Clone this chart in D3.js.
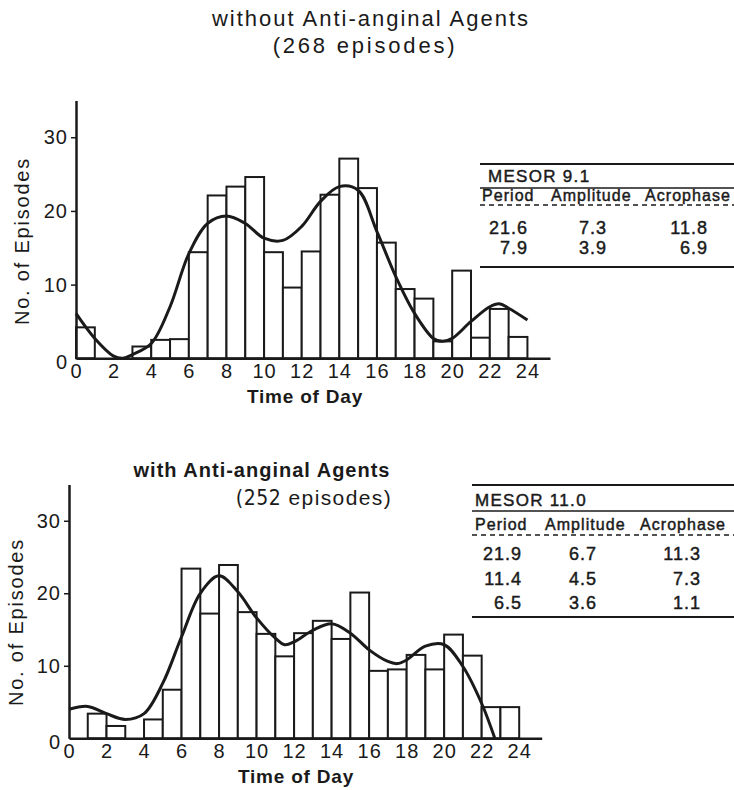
<!DOCTYPE html>
<html>
<head>
<meta charset="utf-8">
<script src="https://cdn.jsdelivr.net/npm/d3@7"></script>
<style>
  body { margin: 0; background: #fff; }
  text { font-family: "Liberation Sans", Arial, sans-serif; fill: #1a1a1a; }
</style>
</head>
<body>
<div class="container"></div>
<script>
// hourly episode counts (bin h = h..h+1)
const hours = d3.range(24);
const xTicks = d3.range(0, 25, 2);
const yTicks = [0, 10, 20, 30];

const withoutCounts = [4.2, 0, 0, 1.6, 2.5, 2.6, 14.4, 22.1, 23.3, 24.6, 14.4, 9.6,
  14.5, 22.2, 27.1, 23.1, 15.7, 9.4, 8.1, 2.3, 11.9, 2.8, 6.7, 2.9];
const withCounts = [0, 3.4, 1.7, 0, 2.6, 6.7, 23.4, 17.2, 23.9, 17.4, 14.4, 11.3,
  14.5, 16.2, 13.7, 20.1, 9.3, 9.5, 11.5, 9.5, 14.3, 11.4, 4.3, 4.3];

// fitted curves
const withoutFitHours = [0, 1, 2, 2.5, 3, 4, 5, 6, 7, 8, 9, 10, 11, 12, 13, 14, 15, 16, 17, 18, 19, 19.5, 20, 21, 22, 22.5, 23, 24];
const withoutFit = [6.1, 2.7, 0.3, 0, 0.5, 2.0, 7.0, 14.2, 18.3, 19.3, 18.3, 16.3, 16.0, 17.9, 21.3, 23.3, 22.8, 17.2, 11.1, 6.1, 2.7, 2.3, 2.7, 5.0, 7.0, 7.4, 6.8, 5.2];
const withFitHours = [0, 1, 2, 3, 4, 5, 6, 7, 8, 9, 10, 11, 11.5, 12, 13, 14, 15, 16, 17, 17.5, 18, 19, 20, 21, 22, 22.7];
const withFit = [4.0, 4.4, 3.4, 2.6, 3.4, 7.6, 14.0, 20.0, 22.4, 20.2, 16.6, 13.8, 12.9, 13.3, 14.9, 15.8, 14.5, 12.2, 10.6, 10.3, 10.8, 12.7, 12.9, 9.9, 4.8, 0];

const tableHeads = ["Period", "Amplitude", "Acrophase"];
const withoutMesor = "9.1";
const withoutRows = [["21.6", "7.3", "11.8"], ["7.9", "3.9", "6.9"]];
const withMesor = "11.0";
const withRows = [["21.9", "6.7", "11.3"], ["11.4", "4.5", "7.3"], ["6.5", "3.6", "1.1"]];

const width = 734;
const height = 790;

const svg = d3.select(".container").append("svg")
  .attr("width", width)
  .attr("height", height);

const ink = "#1a1a1a";

function drawPanel(cfg) {
  const x = d3.scaleLinear().domain([0, 25.2]).range([cfg.left, cfg.right]);
  const y = d3.scaleLinear().domain([0, 35]).range([cfg.base, cfg.top]);
  const g = svg.append("g");

  // bars
  g.selectAll("rect.bar")
    .data(hours.filter(h => cfg.counts[h] > 0))
    .enter()
    .append("rect")
    .attr("class", "bar")
    .attr("x", h => x(h))
    .attr("y", h => y(cfg.counts[h]))
    .attr("width", h => x(h + 1) - x(h))
    .attr("height", h => y(0) - y(cfg.counts[h]))
    .attr("fill", "#fff")
    .attr("stroke", ink)
    .attr("stroke-width", 2);

  // fitted curve
  const line = d3.line()
    .x(d => x(d[0]))
    .y(d => y(d[1]))
    .curve(d3.curveCatmullRom.alpha(0.5));
  g.append("path")
    .datum(d3.zip(cfg.fitHours, cfg.fit))
    .attr("fill", "none")
    .attr("stroke", ink)
    .attr("stroke-width", 3)
    .attr("d", line);

  // axes
  const xa = g.append("g")
    .attr("transform", `translate(0,${cfg.base})`)
    .call(d3.axisBottom(x).tickValues(xTicks).tickSize(0).tickSizeOuter(0).tickPadding(6));
  const ya = g.append("g")
    .attr("transform", `translate(${cfg.left},0)`)
    .call(d3.axisLeft(y).tickValues(yTicks).tickSize(5).tickSizeOuter(0).tickPadding(3));
  [xa, ya].forEach(a => {
    a.select(".domain").attr("stroke", ink).attr("stroke-width", 2.5);
    a.selectAll(".tick line").attr("stroke", ink).attr("stroke-width", 1.5);
    a.selectAll(".tick text")
      .attr("fill", ink)
      .style("font-family", "'Liberation Sans', Arial, sans-serif")
      .style("font-size", "20px")
      .style("letter-spacing", "1px");
  });
  ya.selectAll(".tick").filter(d => d === 0).select("line").remove();
  ya.selectAll(".tick").filter(d => d === 0).select("text").attr("dy", "0.5em");

  // axis titles
  g.append("text")
    .attr("transform", `translate(${cfg.ylabX},${cfg.ylabY}) rotate(-90)`)
    .attr("text-anchor", "middle")
    .style("font-size", "20px")
    .style("letter-spacing", "1.8px")
    .text("No. of Episodes");
  g.append("text")
    .attr("x", cfg.xlabX)
    .attr("y", cfg.xlabY)
    .attr("text-anchor", "middle")
    .style("font-size", "19px")
    .style("font-weight", "bold")
    .style("letter-spacing", "0.8px")
    .text("Time of Day");
}

// medium-weight look of the table type: regular face with a thin outline
function medium(sel, size, ls) {
  sel.style("font-size", size + "px")
    .style("letter-spacing", ls + "px")
    .attr("stroke", ink)
    .attr("stroke-width", 0.45);
}

function drawTable(cfg) {
  const g = svg.append("g");
  const cols = cfg.colX;
  const right = cfg.numRight;
  const hline = (yy, dash, w) => g.append("line")
    .attr("x1", cfg.left).attr("x2", width)
    .attr("y1", yy).attr("y2", yy)
    .attr("stroke", ink).attr("stroke-width", w)
    .attr("stroke-dasharray", dash);

  hline(cfg.y0, null, 2);
  g.append("text")
    .attr("x", cfg.mesorX).attr("y", cfg.mesorY)
    .call(medium, 17, 1.3)
    .text("MESOR " + cfg.mesor);
  hline(cfg.y1, null, 1.5);
  g.selectAll("text.head")
    .data(tableHeads)
    .enter()
    .append("text")
    .attr("class", "head")
    .attr("x", (d, i) => cols[i])
    .attr("y", cfg.headY)
    .call(medium, 16, 1.05)
    .text(d => d);
  hline(cfg.dashY, "5,4", 1.3);
  cfg.rows.forEach((row, r) => {
    g.selectAll(null)
      .data(row)
      .enter()
      .append("text")
      .attr("x", (d, i) => right[i])
      .attr("y", cfg.rowY + r * cfg.rowStep)
      .attr("text-anchor", "end")
      .call(medium, 18, 1)
      .text(d => d);
  });
  hline(cfg.y2, null, 2);
}

function drawTitle(lines) {
  lines.forEach(l => {
    const t = svg.append("text")
      .attr("x", l.x).attr("y", l.y)
      .attr("text-anchor", "middle")
      .style("font-size", l.size + "px")
      .style("font-weight", l.bold ? "bold" : "normal")
      .style("letter-spacing", l.ls + "px");
    if (l.narrow) {
      t.append("tspan").style("font-family", "'Liberation Sans Narrow', 'DejaVu Sans Condensed', sans-serif")
        .style("letter-spacing", "0.5px").text(l.narrow);
      t.append("tspan").text(l.text);
    } else {
      t.text(l.text);
    }
  });
}

drawTitle([
  { x: 371, y: 26, size: 22, ls: 2, text: "without Anti-anginal Agents" },
  { x: 365, y: 53, size: 22, ls: 2.8, text: "(268  episodes)" },
  { x: 262, y: 477, size: 20, ls: 1, bold: true, text: "with Anti-anginal Agents" },
  { x: 314, y: 505, size: 21, ls: 1.4, narrow: "(252", text: " episodes)" }
]);

drawPanel({
  counts: withoutCounts, fitHours: withoutFitHours, fit: withoutFit,
  left: 76, right: 550, base: 358.3, top: 100.4,
  ylabX: 29, ylabY: 241, xlabX: 305, xlabY: 403
});
drawPanel({
  counts: withCounts, fitHours: withFitHours, fit: withFit,
  left: 69, right: 541.7, base: 738.3, top: 484.5,
  ylabX: 23, ylabY: 622, xlabX: 296, xlabY: 783
});

drawTable({
  left: 480, y0: 164, mesorX: 488, mesorY: 182, y1: 188, headY: 201, dashY: 205,
  rowY: 234, rowStep: 19.5, y2: 267, mesor: withoutMesor, rows: withoutRows,
  colX: [482, 551, 645], numRight: [528, 607, 708]
});
drawTable({
  left: 472, y0: 485, mesorX: 475, mesorY: 506, y1: 511, headY: 530, dashY: 535,
  rowY: 560, rowStep: 24.5, y2: 617, mesor: withMesor, rows: withRows,
  colX: [475, 545, 640], numRight: [522, 597, 701]
});
</script>
</body>
</html>
